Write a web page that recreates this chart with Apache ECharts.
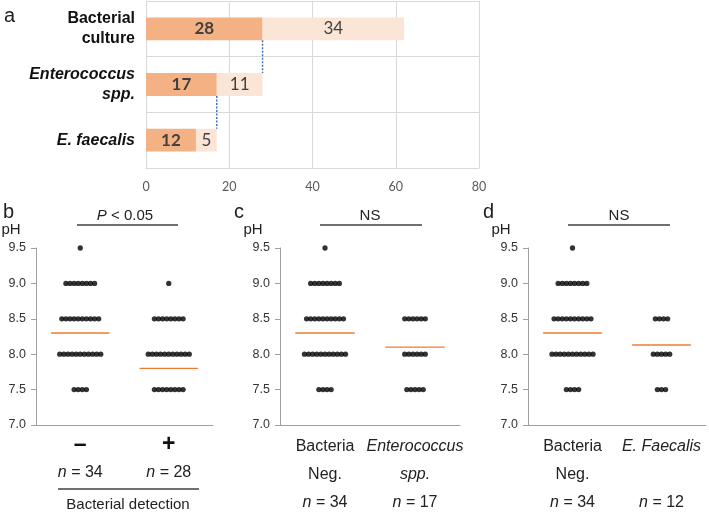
<!DOCTYPE html>
<html>
<head>
<meta charset="utf-8">
<script src="https://cdn.jsdelivr.net/npm/echarts@6/dist/echarts.min.js"></script>
<style>
  html, body { margin: 0; padding: 0; background: #fff; }
  #main { width: 709px; height: 516px; }
</style>
</head>
<body>
<div id="main"></div>
<script>
// panel a: culture results
const cultureCategories = ['Bacterial\nculture', 'Enterococcus\nspp.', 'E. faecalis'];
const positiveCounts = [28, 17, 12];
const remainingCounts = [34, 11, 5];

// panels b-d: number of samples at each pH level
const phLevels = [7.5, 8.0, 8.5, 9.0, 9.5];
const negDots = [4, 11, 10, 8, 1];       // n = 34
const posDots = [8, 11, 8, 1, 0];        // n = 28
const enteroDots = [5, 6, 6, 0, 0];      // n = 17
const faecalisDots = [3, 5, 4, 0, 0];    // n = 12
const negMean = 8.3;
const posMean = 7.8;
const enteroMean = 8.1;
const faecalisMean = 8.13;

const phTicks = [7.0, 7.5, 8.0, 8.5, 9.0, 9.5];

const FONT = 'Liberation Sans';
const AXIS_GRAY = '#a0a0a0';
const DOT_GAP_PX = 4.1;
const MEAN_HALF = 0.33;

const panels = [
  { grid: { left: 36, top: 248, width: 177, height: 177 }, labels: ['–', '+'], sign: true,
    groups: [negDots, posDots], means: [negMean, posMean], n: [34, 28] },
  { grid: { left: 280, top: 248, width: 180, height: 177 }, labels: ['Bacteria\nNeg.', 'Enterococcus\nspp.'],
    italic: [false, true], groups: [negDots, enteroDots], means: [negMean, enteroMean], n: [34, 17] },
  { grid: { left: 528, top: 248, width: 178, height: 177 }, labels: ['Bacteria\nNeg.', 'E. Faecalis'],
    italic: [false, true], groups: [negDots, faecalisDots], means: [negMean, faecalisMean], n: [34, 12] }
];

function dotPoints(counts, center, step) {
  const pts = [];
  counts.forEach((c, j) => {
    for (let k = 0; k < c; k++) {
      pts.push([center + (k - (c - 1) / 2) * step, phLevels[j]]);
    }
  });
  return pts;
}

const chart = echarts.init(document.getElementById('main'));

const grids = [{ left: 146, top: 1, width: 333, height: 167 }];
const xAxes = [{
  gridIndex: 0, type: 'value', min: 0, max: 80, interval: 20,
  axisLine: { show: true, lineStyle: { color: '#d9d9d9' } },
  axisTick: { show: false },
  splitLine: { show: true, lineStyle: { color: '#d9d9d9' } },
  axisLabel: { color: '#595959', fontSize: 12.5, fontFamily: 'Lato', margin: 12 }
}];
const yAxes = [{
  gridIndex: 0, type: 'category', inverse: true, data: cultureCategories,
  axisLine: { show: true, lineStyle: { color: '#d9d9d9' } },
  axisTick: { show: false },
  splitLine: { show: true, lineStyle: { color: '#d9d9d9' } },
  axisLabel: {
    margin: 11, interval: 0,
    formatter: (v, i) => v.split('\n').map(s => `{${i === 0 ? 'b' : 'bi'}|${s}}`).join('\n'),
    rich: {
      b: { fontFamily: FONT, fontWeight: 'bold', fontSize: 16, lineHeight: 20, color: '#111', align: 'right' },
      bi: { fontFamily: FONT, fontWeight: 'bold', fontStyle: 'italic', fontSize: 16, lineHeight: 20, color: '#111', align: 'right' }
    }
  }
}];

const series = [
  {
    type: 'bar', stack: 'a', xAxisIndex: 0, yAxisIndex: 0, barWidth: '41%',
    data: positiveCounts, itemStyle: { color: '#F4B183' },
    label: { show: true, position: 'inside', color: '#404040', fontFamily: 'Lato', fontWeight: 'bold', fontSize: 17 }
  },
  {
    type: 'bar', stack: 'a', xAxisIndex: 0, yAxisIndex: 0, barWidth: '41%',
    data: remainingCounts, itemStyle: { color: '#FBE5D6' },
    label: { show: true, position: 'inside', color: '#404040', fontFamily: 'Lato', fontSize: 17 }
  },
  {
    type: 'custom', xAxisIndex: 0, yAxisIndex: 0, z: 5,
    data: positiveCounts.slice(0, -1).map((v, i) => [v, i]),
    encode: { x: 0, y: 1 },
    renderItem: (params, api) => {
      const x = api.value(0), i = api.value(1);
      const p1 = api.coord([x, i]);
      const p2 = api.coord([x, i + 1]);
      const half = api.size([0, 1])[1] * 0.41 / 2;
      return {
        type: 'line',
        shape: { x1: p1[0], y1: p1[1] + half, x2: p2[0], y2: p2[1] - half },
        style: { stroke: '#4472C4', lineWidth: 1.5, lineDash: [2, 1.5] }
      };
    }
  }
];

panels.forEach((p, idx) => {
  const g = idx + 1;
  grids.push(p.grid);
  xAxes.push({
    gridIndex: g, type: 'category', data: p.labels, boundaryGap: true,
    axisLine: { show: true, lineStyle: { color: AXIS_GRAY, width: 1 } },
    axisTick: { show: false },
    axisLabel: {
      interval: 0, margin: p.sign ? 5 : 8, color: '#222',
      formatter: (v, i) => {
        let lines;
        if (p.sign) {
          lines = [`{sg|${v}}`];
        } else {
          lines = v.split('\n').map(s => `{${p.italic[i] ? 'it' : 't'}|${s}}`);
          while (lines.length < 2) lines.push('{t| }');
        }
        lines.push(`{ni|n}{t| = ${p.n[i]}}`);
        return lines.join('\n');
      },
      rich: {
        sg: { fontFamily: FONT, fontSize: 23, fontWeight: 'bold', lineHeight: 29, color: '#111' },
        t: { fontFamily: FONT, fontSize: 16, lineHeight: 28, color: '#222' },
        it: { fontFamily: FONT, fontSize: 16, fontStyle: 'italic', lineHeight: 28, color: '#222' },
        ni: { fontFamily: FONT, fontSize: 16, fontStyle: 'italic', lineHeight: 28, color: '#222' }
      }
    }
  });
  const valIndex = xAxes.length;
  xAxes.push({ gridIndex: g, type: 'value', min: 0, max: 2, show: false });
  yAxes.push({
    gridIndex: g, type: 'value', min: phTicks[0], max: phTicks[phTicks.length - 1], interval: 0.5,
    axisLine: { show: true, lineStyle: { color: AXIS_GRAY, width: 1 } },
    axisTick: { show: true, length: 5, lineStyle: { color: AXIS_GRAY } },
    splitLine: { show: false },
    axisLabel: { formatter: v => v.toFixed(1), fontFamily: FONT, fontSize: 12.5, color: '#333', margin: 10 }
  });
  const step = DOT_GAP_PX / (p.grid.width / 2);
  p.groups.forEach((counts, gi) => {
    const center = gi + 0.5;
    series.push({
      type: 'line', xAxisIndex: valIndex, yAxisIndex: g, symbol: 'none', silent: true,
      lineStyle: { color: '#ED7D31', width: 1.4 },
      data: [[center - MEAN_HALF, p.means[gi]], [center + MEAN_HALF, p.means[gi]]]
    });
    series.push({
      type: 'scatter', xAxisIndex: valIndex, yAxisIndex: g, symbolSize: 5.3,
      itemStyle: { color: '#000' },
      data: dotPoints(counts, center, step)
    });
  });
});

function txt(text, x, y, size, extra) {
  return {
    type: 'text',
    style: Object.assign({ text, x, y, fontFamily: FONT, fontSize: size, fill: '#222', align: 'center', verticalAlign: 'middle' }, extra || {})
  };
}
function hline(x1, x2, y) {
  return { type: 'line', shape: { x1, y1: y, x2, y2: y }, style: { stroke: '#404040', lineWidth: 1.5 } };
}

const graphic = [
  txt('a', 4, 16, 20, { align: 'left' }),
  txt('b', 3, 212, 20, { align: 'left' }),
  txt('c', 234, 212, 20, { align: 'left' }),
  txt('d', 483, 212, 20, { align: 'left' }),
  txt('pH', 11, 230, 15),
  txt('pH', 253, 230, 15),
  txt('pH', 501, 230, 15),
  txt('{i|P} < 0.05', 125, 216, 15, { rich: { i: { fontStyle: 'italic', fontFamily: FONT, fontSize: 15, fill: '#222' } } }),
  hline(77, 178, 225),
  txt('NS', 370, 216, 15),
  hline(320, 422, 225),
  txt('NS', 619, 216, 15),
  hline(568, 670, 225),
  hline(58, 199, 489),
  txt('Bacterial detection', 128, 505, 15)
];

chart.setOption({
  animation: false,
  textStyle: { fontFamily: FONT },
  grid: grids,
  xAxis: xAxes,
  yAxis: yAxes,
  series: series,
  graphic: graphic
});
</script>
</body>
</html>
